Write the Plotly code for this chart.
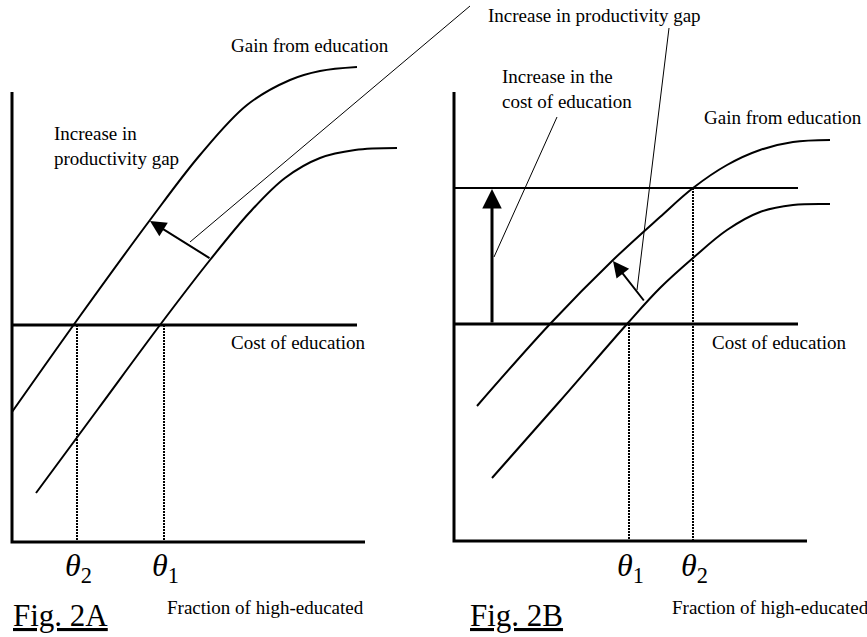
import plotly.graph_objects as go

FONT = "Liberation Serif"
BLACK = "#000000"

# ---- Fig. 2A (pixel-space schematic coordinates) ----
A_axis_x = [12, 12, 365]
A_axis_y = [92, 542, 542]
A_cost_x = [12, 357]
A_cost_y = [325, 325]
A_upper_x = [12, 80, 150, 200, 247, 290, 320, 357]
A_upper_y = [412, 316, 220, 155, 105, 80, 71, 67]
A_lower_x = [36, 98, 160, 210, 250, 285, 320, 355, 397]
A_lower_y = [493, 409, 325, 260, 212, 178, 158, 150, 148]
A_theta_x = [77, 164]
A_theta_top = [325, 325]
A_theta_labels = ["2", "1"]
A_arrow = dict(tail=(211, 259), head=(150, 221))
A_leader_x = [190, 470]
A_leader_y = [242, 6]

# ---- Fig. 2B ----
B_axis_x = [454, 454, 807]
B_axis_y = [92, 541, 541]
B_cost_x = [454, 798]
B_cost_y = [324, 324]
B_cost2_y = [188, 188]
B_upper_x = [477, 550, 613, 660, 693, 727, 760, 793, 830]
B_upper_y = [406, 324, 260, 217, 188, 165, 150, 142, 140]
B_lower_x = [492, 560, 627, 660, 693, 727, 760, 793, 830]
B_lower_y = [478, 401, 324, 288, 258, 230, 212, 205, 204]
B_theta_x = [629, 693]
B_theta_top = [324, 188]
B_theta_labels = ["1", "2"]
B_arrow = dict(tail=(645, 302), head=(613, 261))
B_cost_arrow = dict(tail=(492, 324), head=(492, 189))
B_leader1_x = [637, 669]
B_leader1_y = [290, 28]
B_leader2_x = [494, 557]
B_leader2_y = [257, 117]
AXIS_BOTTOM = 542

fig = go.Figure()


def line(x, y, w=2, dash=None, shape="linear"):
    fig.add_trace(go.Scatter(x=x, y=y, mode="lines", hoverinfo="skip",
                             line=dict(color=BLACK, width=w, dash=dash, shape=shape,
                                       smoothing=1.0 if shape == "spline" else None)))


# axes
line(A_axis_x, A_axis_y, 3)
line(B_axis_x, B_axis_y, 3)
# cost lines
line(A_cost_x, A_cost_y, 3)
line(B_cost_x, B_cost_y, 3)
line(B_cost_x, B_cost2_y, 2)
# curves
line(A_upper_x, A_upper_y, 2, shape="spline")
line(A_lower_x, A_lower_y, 2, shape="spline")
line(B_upper_x, B_upper_y, 2, shape="spline")
line(B_lower_x, B_lower_y, 2, shape="spline")
# dotted verticals
for xs, tops in ((A_theta_x, A_theta_top), (B_theta_x, B_theta_top)):
    for xv, top in zip(xs, tops):
        line([xv, xv], [top, AXIS_BOTTOM], 2, dash="2px,1px")
# leaders
line(A_leader_x, A_leader_y, 1)
line(B_leader1_x, B_leader1_y, 1)
line(B_leader2_x, B_leader2_y, 1)

# arrows
for arr, w, size in ((A_arrow, 2, 1.6), (B_arrow, 2, 1.6), (B_cost_arrow, 3, 1.3)):
    fig.add_annotation(x=arr["head"][0], y=arr["head"][1], ax=arr["tail"][0], ay=arr["tail"][1],
                       xref="x", yref="y", axref="x", ayref="y", text="",
                       showarrow=True, arrowhead=2, arrowsize=size, arrowwidth=w,
                       arrowcolor=BLACK, standoff=0)

texts = [
    ("Gain from education", 229, 45),
    ("Increase in<br>productivity gap", 52, 146),
    ("Cost of education", 229, 342),
    ("Fraction of high-educated", 165, 607),
    ("Increase in productivity gap", 486, 15),
    ("Increase in the<br>cost of education", 500, 89),
    ("Gain from education", 702, 117),
    ("Cost of education", 710, 342),
    ("Fraction of high-educated", 670, 607),
]
for t, x, y in texts:
    fig.add_annotation(x=x, y=y, xref="x", yref="y", text=t, showarrow=False,
                       xanchor="left", yanchor="middle", align="left",
                       font=dict(family=FONT, size=19, color=BLACK))

for xs, labs in ((A_theta_x, A_theta_labels), (B_theta_x, B_theta_labels)):
    for xv, lab in zip(xs, labs):
        fig.add_annotation(x=xv - 14, y=567, xref="x", yref="y",
                           text=f"<i>θ</i><sub>{lab}</sub>", showarrow=False,
                           xanchor="left", yanchor="middle",
                           font=dict(family=FONT, size=32, color=BLACK))

for t, x in (("Fig. 2A", 11), ("Fig. 2B", 468)):
    fig.add_annotation(x=x, y=615, xref="x", yref="y", text=f"<u>{t}</u>", showarrow=False,
                       xanchor="left", yanchor="middle",
                       font=dict(family=FONT, size=31, color=BLACK))

fig.update_layout(width=867, height=637, margin=dict(l=0, r=0, t=0, b=0),
                  plot_bgcolor="white", paper_bgcolor="white", showlegend=False,
                  xaxis=dict(range=[0, 867], visible=False, fixedrange=True),
                  yaxis=dict(range=[637, 0], visible=False, fixedrange=True))
fig.write_html("out.html", config={"displayModeBar": False},
               post_script="document.body.style.margin='0';document.body.style.overflow='hidden';")
